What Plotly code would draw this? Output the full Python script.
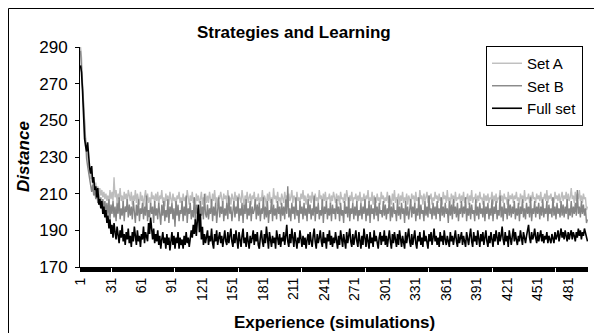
import plotly.graph_objects as go

# ---------------- data ----------------
experience = list(range(1, 501))

set_a = [
    290,284,270,258,248,240,234,230,226,222,218,221,215,217,213,216,211,214,210,213,209,212,208,211,207,
    210,206,209,205,212,207,211,206,219,208,212,205,210,207,213,206,209,204,211,207,210,205,212,208,206,
    211,204,209,206,212,205,210,207,204,211,206,209,203,208,212,206,210,205,208,204,211,207,209,205,210,
    206,211,204,209,207,212,205,208,203,210,206,209,204,211,207,205,210,206,208,203,209,207,211,205,208,
    204,210,206,208,205,212,207,204,209,206,211,205,208,203,210,206,209,205,207,211,204,208,206,210,205,
    209,205,211,207,204,210,206,212,205,208,203,209,207,211,206,204,210,207,209,205,212,206,208,204,210,
    207,205,211,206,209,204,210,208,205,212,207,203,209,206,211,205,208,210,204,209,207,211,205,208,206,
    210,204,208,206,212,205,209,207,203,210,206,211,205,208,204,213,207,209,205,211,206,208,204,210,207,
    205,211,207,209,204,210,206,208,212,205,209,207,204,211,206,208,205,210,207,212,206,209,204,208,210,
    206,209,205,211,207,204,210,206,208,205,212,207,209,204,210,206,211,205,208,207,210,204,209,206,211,
    207,205,210,206,209,204,211,207,208,205,210,206,212,207,204,209,206,211,205,208,207,210,205,209,206,
    211,205,208,206,210,204,209,207,212,205,208,206,211,204,209,207,205,210,206,208,204,211,207,209,205,
    208,206,211,205,209,207,204,210,206,212,205,208,207,210,204,209,206,211,205,208,206,210,204,209,207,
    205,210,207,209,204,211,206,208,205,212,207,209,204,210,206,208,211,205,209,207,210,204,208,206,211,
    207,209,205,210,206,208,204,211,207,209,205,212,206,208,204,210,207,209,205,211,206,208,207,210,205,
    209,206,211,205,208,207,210,204,209,206,212,205,208,207,210,205,209,206,211,207,208,204,210,206,209,
    206,210,205,208,207,211,204,209,206,210,205,208,207,212,206,209,205,210,207,208,204,211,206,209,207,
    210,205,209,207,211,206,208,204,210,207,209,205,212,206,208,207,210,205,209,206,211,207,208,205,210,
    207,209,206,211,205,208,207,210,206,212,205,209,207,210,206,208,205,211,207,209,206,210,205,208,211,
    206,209,207,211,205,210,206,208,213,207,209,205,211,206,210,207,212,206,209,205,210,207,208,201,203,
]

set_b = [
    288,278,264,252,242,236,229,225,221,217,214,211,215,209,212,207,211,205,210,204,208,202,207,201,206,
    200,205,198,207,196,204,199,206,197,203,195,205,199,208,196,202,198,206,195,203,200,207,197,204,198,
    203,196,206,199,194,204,198,207,195,202,199,205,196,203,198,209,195,201,197,205,199,203,194,206,198,
    202,196,205,199,193,204,198,206,195,201,197,207,194,203,199,205,196,202,192,206,198,204,195,201,199,
    206,195,203,198,209,194,202,199,205,196,201,197,208,195,204,199,202,194,206,198,203,196,210,199,197,
    204,196,202,199,207,195,203,198,205,194,201,208,197,203,199,206,195,202,198,205,196,209,199,203,195,
    201,206,197,203,199,208,195,202,198,205,194,204,199,207,196,202,198,206,195,203,199,201,207,196,204,
    198,205,195,202,199,208,196,203,197,206,194,201,199,207,195,204,198,202,196,206,199,203,195,205,198,
    203,196,207,199,214,197,202,195,205,199,203,196,208,198,201,194,206,199,203,196,205,198,202,195,207,
    199,204,196,202,198,209,195,203,199,205,196,201,198,207,194,203,199,206,196,202,198,205,195,204,199,
    202,196,207,199,203,195,205,198,201,194,206,199,203,197,208,195,202,199,205,196,203,198,206,195,201,
    198,205,196,203,199,207,195,202,198,206,194,204,199,202,196,208,198,203,195,205,199,201,197,206,198,
    204,196,202,199,209,195,203,197,205,199,201,195,207,198,203,196,205,199,202,194,206,198,203,196,201,
    207,197,203,199,205,195,202,198,208,196,204,199,201,195,206,198,203,197,209,199,202,196,205,198,203,
    196,206,199,202,195,208,198,203,197,205,199,202,194,206,198,204,196,207,199,203,197,205,195,202,199,
    206,197,203,199,208,195,202,198,205,196,204,199,201,195,207,198,203,196,205,199,202,197,206,195,203,
    199,205,196,202,198,207,195,203,199,206,196,201,198,209,197,203,195,205,199,202,196,207,198,204,197,
    203,199,206,196,202,198,205,195,203,199,207,197,202,196,205,199,203,197,208,195,202,199,206,197,203,
    199,205,196,203,198,207,197,202,199,206,195,204,199,202,197,208,198,203,196,205,199,202,197,206,198,
    204,197,203,199,207,196,202,198,206,197,203,199,205,198,212,199,203,197,206,199,204,198,202,194,196,
]

full_set = [
    280,276,266,248,240,236,233,238,228,224,221,225,216,219,212,214,208,213,204,207,202,206,199,203,197,
    201,194,198,191,196,188,193,186,194,189,185,192,187,183,190,186,193,184,188,182,189,185,191,183,187,
    181,189,184,192,186,182,190,184,187,181,188,185,192,183,189,186,184,194,188,197,190,185,191,183,188,
    184,190,182,187,180,185,189,183,186,180,188,182,186,179,185,189,182,187,180,186,183,189,180,186,182,
    185,180,187,182,189,183,186,181,188,190,186,193,188,196,187,200,204,189,199,185,192,182,188,183,186,
    190,182,187,184,191,183,180,188,184,190,182,186,189,183,187,181,186,190,184,182,189,183,187,191,184,
    181,188,183,190,185,180,189,184,181,187,191,183,186,181,189,184,180,187,183,186,190,182,188,184,189,
    182,180,186,190,184,181,188,183,192,186,180,189,184,181,187,183,186,180,190,184,182,188,181,186,184,
    189,182,187,193,184,181,188,183,191,185,181,189,184,180,186,183,190,184,181,187,182,186,180,185,188,
    182,189,184,181,187,191,184,180,188,183,186,190,184,181,189,183,186,180,188,184,190,182,187,181,186,
    183,189,184,180,187,182,190,185,181,188,184,180,189,183,187,191,184,181,188,182,186,190,184,181,189,
    184,180,187,182,191,185,181,188,184,180,189,183,186,181,190,184,187,182,180,186,189,182,187,184,190,
    182,187,181,186,190,184,180,188,183,189,184,181,188,182,190,185,181,187,184,180,189,183,187,191,184,
    181,188,182,186,190,183,180,187,184,189,182,186,181,190,184,187,182,180,188,184,189,182,186,191,184,
    187,182,186,181,189,184,187,182,190,185,182,187,184,181,189,184,187,182,186,190,184,181,188,183,186,
    189,182,187,184,181,189,185,182,187,191,184,181,189,184,187,182,190,185,181,188,184,189,182,186,190,
    184,181,187,183,189,185,181,188,184,190,185,182,189,184,187,192,185,182,189,184,187,181,190,185,182,
    187,191,184,189,185,182,187,184,190,185,182,189,185,183,187,190,193,186,183,189,185,187,191,186,183,
    189,184,187,190,184,188,183,187,185,189,183,187,185,183,188,185,183,189,185,187,190,184,188,191,186,
    189,185,190,187,184,189,185,188,190,185,189,187,184,189,186,191,187,190,185,189,187,191,189,187,184,
]

y_ticks = [170, 190, 210, 230, 250, 270, 290]
x_label_every = 30

# ---------------- figure ----------------
FONT = "Arial, 'Liberation Sans', sans-serif"
W, H = 594, 333
L, R, T, B = 80, 6, 47, 66
pw, ph = W - L - R, H - T - B

def px_x(p):
    return (p - L) / pw

def px_y(p):
    return (H - B - p) / ph

fig = go.Figure()
fig.add_trace(go.Scatter(x=experience, y=set_a, mode="lines", name="Set A",
                         line=dict(color="#BDBDBD", width=1.4)))
fig.add_trace(go.Scatter(x=experience, y=set_b, mode="lines", name="Set B",
                         line=dict(color="#858585", width=1.4)))
fig.add_trace(go.Scatter(x=experience, y=full_set, mode="lines", name="Full set",
                         line=dict(color="#000000", width=1.6)))

tick_text = [str(v) if (v - 1) % x_label_every == 0 else "" for v in experience]

fig.update_layout(
    width=W, height=H,
    margin=dict(l=L, r=R, t=T, b=B),
    paper_bgcolor="white", plot_bgcolor="white",
    font=dict(family=FONT, color="black"),
    showlegend=True,
    legend=dict(x=px_x(486), y=px_y(46), xanchor="left", yanchor="top",
                bordercolor="black", borderwidth=1, bgcolor="white",
                font=dict(size=15, family=FONT), itemwidth=30,
                tracegroupgap=0),
    xaxis=dict(range=[0.5, 500.5], tickmode="array", tickvals=experience,
               ticktext=tick_text, tickangle=-90, ticks="outside", ticklen=4,
               tickcolor="black", tickwidth=1, showline=True, linecolor="black",
               linewidth=1, showgrid=False, zeroline=False,
               tickfont=dict(size=14, family=FONT)),
    yaxis=dict(range=[170, 290], tickvals=y_ticks, ticks="outside", ticklen=4,
               tickcolor="black", showline=True, linecolor="black", linewidth=1,
               showgrid=False, zeroline=False, ticklabelstandoff=4,
               tickfont=dict(size=17, family=FONT)),
    annotations=[
        dict(text="<b>Strategies and Learning</b>", xref="paper", yref="paper",
             x=px_x(294), y=px_y(33), showarrow=False, font=dict(size=17, family=FONT),
             xanchor="center", yanchor="middle"),
        dict(text="<b><i>Distance</i></b>", xref="paper", yref="paper",
             x=px_x(23), y=px_y(157), showarrow=False, textangle=-90,
             font=dict(size=17, family=FONT), xanchor="center", yanchor="middle"),
        dict(text="<b>Experience (simulations)</b>", xref="paper", yref="paper",
             x=px_x(334), y=px_y(323), showarrow=False,
             font=dict(size=17, family=FONT), xanchor="center", yanchor="middle"),
    ],
    shapes=[
        dict(type="rect", xref="paper", yref="paper",
             x0=px_x(8.5), x1=px_x(600), y0=px_y(345), y1=px_y(8.5),
             line=dict(color="black", width=1), fillcolor="rgba(0,0,0,0)", layer="below"),
    ],
)

fig.write_html("out.html")
